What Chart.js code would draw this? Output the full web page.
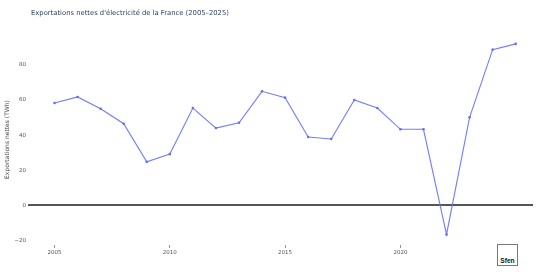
<!DOCTYPE html>
<html lang="fr">
<head>
<meta charset="UTF-8">
<title>Exportations nettes</title>
<script src="https://cdn.jsdelivr.net/npm/chart.js@4"></script>
<style>
    html, body { margin: 0; padding: 0; background: #fff; }
    .wrap { position: relative; width: 537px; height: 278px; }
    .title {
        position: absolute; left: 31px; top: 9px;
        font: 6.8px "DejaVu Sans", Verdana, sans-serif;
        color: #2a3f5f; white-space: nowrap;
    }
    .logo {
        position: absolute; left: 497px; top: 244px; width: 19px; height: 19px;
        border: 1px solid #777; background: #fff;
        font: bold 6.6px "Liberation Sans", Arial, sans-serif; color: #111;
        display: flex; align-items: flex-end; justify-content: center;
        padding-bottom: 1px; box-sizing: content-box;
    }
</style>
</head>
<body>
<div class="wrap">
    <canvas id="chart" width="537" height="278"></canvas>
    <div class="title">Exportations nettes d'électricité de la France (2005–2025)</div>
    <div class="logo">Sfen</div>
</div>
<script>
    // valeurs (TWh)
    const years = [2005, 2006, 2007, 2008, 2009, 2010, 2011, 2012, 2013, 2014, 2015,
                   2016, 2017, 2018, 2019, 2020, 2021, 2022, 2023, 2024, 2025];
    const exports = [58.3, 61.7, 55.0, 46.5, 24.8, 29.2, 55.4, 44.0, 47.0, 64.9, 61.3,
                     38.9, 37.8, 60.0, 55.4, 43.3, 43.3, -16.5, 50.1, 88.6, 91.9];
    const xTicks = [2005, 2010, 2015, 2020];
    const yTicks = [-20, 0, 20, 40, 60, 80];

    const points = years.map((y, i) => ({ x: y, y: exports[i] }));

    new Chart(document.getElementById('chart'), {
        type: 'line',
        data: {
            datasets: [{
                data: points,
                borderColor: 'rgba(99,110,250,0.9)',
                backgroundColor: '#636efa',
                borderWidth: 1.1,
                pointRadius: 1.3,
                pointBorderWidth: 0,
                tension: 0
            }]
        },
        options: {
            responsive: false,
            animation: false,
            layout: { padding: { top: 34, right: 0, left: 0, bottom: 0 } },
            plugins: { legend: { display: false }, tooltip: { enabled: false } },
            scales: {
                x: {
                    type: 'linear',
                    min: 2003.85,
                    max: 2025.75,
                    afterBuildTicks: s => { s.ticks = xTicks.map(v => ({ value: v })); },
                    afterFit: s => { s.height = 33; },
                    border: { display: false },
                    grid: { drawOnChartArea: false, drawTicks: true, tickLength: 3, tickColor: '#666', lineWidth: 0.7 },
                    ticks: {
                        padding: 1,
                        color: '#555',
                        font: { family: 'DejaVu Sans', size: 5.5 },
                        maxRotation: 0,
                        callback: v => String(v)
                    }
                },
                y: {
                    min: -22.5,
                    max: 97.5,
                    afterBuildTicks: s => { s.ticks = yTicks.map(v => ({ value: v })); },
                    afterFit: s => { s.width = 28; },
                    border: { display: false },
                    grid: {
                        drawTicks: false,
                        color: c => c.tick && c.tick.value === 0 ? '#555' : 'rgba(0,0,0,0)',
                        lineWidth: c => c.tick && c.tick.value === 0 ? 2 : 0
                    },
                    title: {
                        display: true,
                        text: 'Exportations nettes (TWh)',
                        color: '#444',
                        font: { family: 'DejaVu Sans', size: 6 },
                        padding: { top: 4, bottom: 0 }
                    },
                    ticks: {
                        padding: 2,
                        color: '#555',
                        font: { family: 'DejaVu Sans', size: 5.5 },
                        callback: v => v < 0 ? '\u2212' + Math.abs(v) : String(v)
                    }
                }
            }
        }
    });
</script>
</body>
</html>
